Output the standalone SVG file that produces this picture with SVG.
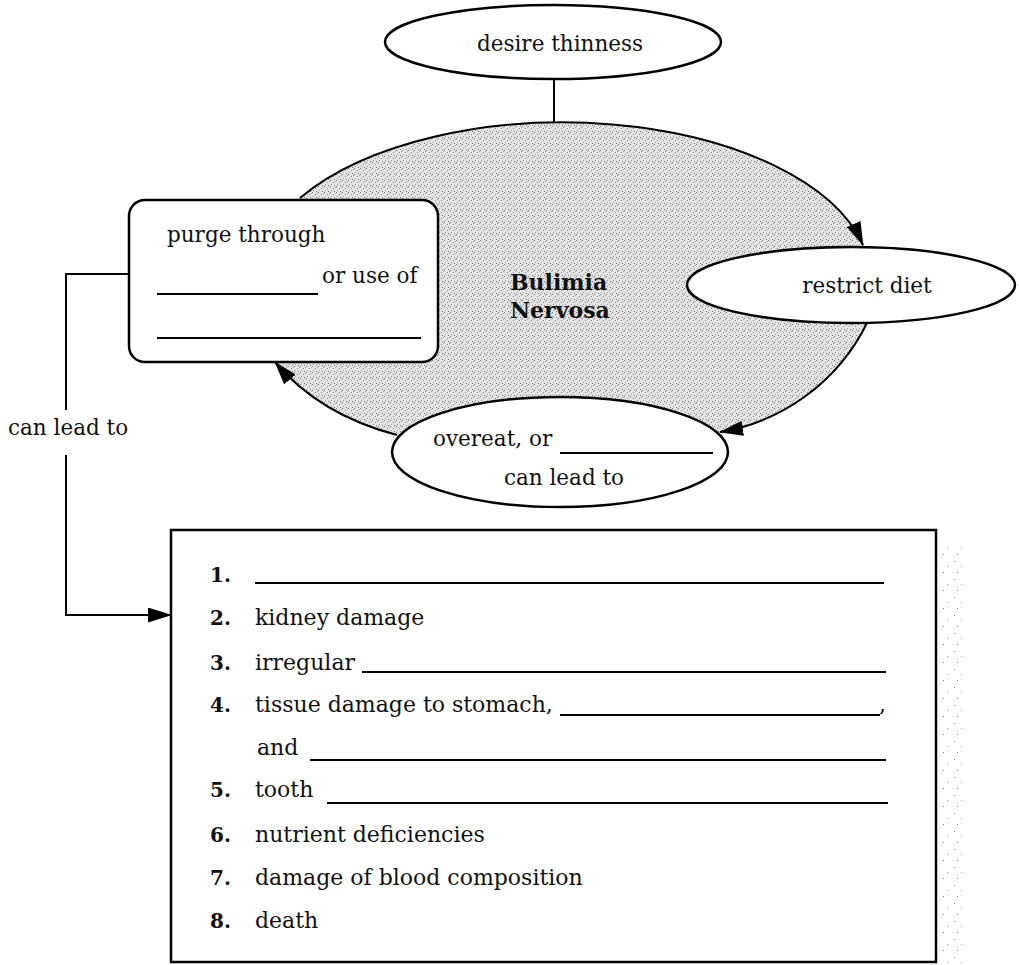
<svg xmlns="http://www.w3.org/2000/svg" width="1019" height="965" viewBox="0 0 1019 965">
<style>
.t{font-family:"DejaVu Serif","Liberation Serif",serif;font-size:21.5px;fill:#111}
.l{font-family:"DejaVu Serif","Liberation Serif",serif;font-size:22px;fill:#111}
.b{font-family:"DejaVu Serif","Liberation Serif",serif;font-weight:bold;font-size:22px;fill:#111}
.n{font-family:"DejaVu Serif","Liberation Serif",serif;font-weight:bold;font-size:20px;fill:#111}
.node{fill:#fff;stroke:#000;stroke-width:2.5}
.ln{fill:none;stroke:#000;stroke-width:2}
.blank{stroke:#000;stroke-width:2}
</style>
<defs>
<pattern id="stip" width="6" height="6" patternUnits="userSpaceOnUse">
<rect width="6" height="6" fill="#e4e4e4"/>
<rect x="0" y="0" width="1" height="1" fill="#777"/>
<rect x="3" y="2" width="1" height="1" fill="#888"/>
<rect x="1" y="4" width="1" height="1" fill="#999"/>
<rect x="4" y="5" width="1" height="1" fill="#777"/>
<rect x="5" y="1" width="1" height="1" fill="#aaa"/>
</pattern>
<pattern id="sparse" width="14" height="18" patternUnits="userSpaceOnUse">
<rect width="14" height="18" fill="#fff"/>
<rect x="2" y="3" width="1" height="1" fill="#999"/>
<rect x="9" y="8" width="1" height="1" fill="#aaa"/>
<rect x="5" y="14" width="1" height="1" fill="#888"/>
</pattern>
<marker id="ah" markerUnits="userSpaceOnUse" markerWidth="24" markerHeight="15" viewBox="0 0 24 15" refX="23" refY="7.5" orient="auto">
<path d="M0,0 L24,7.5 L0,15 z" fill="#000"/>
</marker>
</defs>

<g id="background">
<path id="bulimia-area" d="M300,198 A308,158 0 0 1 863,245 L867,323 A200,200 0 0 1 720,432 L397,435 Q320,415 275,362 L300,198 Z" fill="url(#stip)"/>
<rect x="942" y="547" width="22" height="418" fill="url(#sparse)"/>
</g>

<g id="connectors">
<line class="ln" x1="554" y1="80" x2="554" y2="122"/>
<path class="ln" d="M300,198 A308,158 0 0 1 863,245" marker-end="url(#ah)"/>
<path class="ln" d="M867,323 A200,200 0 0 1 720,432" marker-end="url(#ah)"/>
<path class="ln" d="M397,435 Q320,415 275,362" marker-end="url(#ah)"/>
<path class="ln" d="M129,274 L66,274 L66,410"/>
<path class="ln" d="M66,455 L66,615 L171,615" marker-end="url(#ah)"/>
<text class="t" x="8" y="435">can lead to</text>
</g>

<g id="desire-thinness">
<ellipse class="node" cx="553" cy="42" rx="168" ry="37"/>
<text class="t" x="560" y="51" text-anchor="middle">desire thinness</text>
</g>

<g id="bulimia-nervosa">
<text class="b" x="510" y="290">Bulimia</text>
<text class="b" x="510" y="318">Nervosa</text>
</g>

<g id="restrict-diet">
<ellipse class="node" cx="851" cy="285" rx="164" ry="38"/>
<text class="t" x="867" y="293" text-anchor="middle">restrict diet</text>
</g>

<g id="overeat">
<ellipse class="node" cx="560" cy="452" rx="168" ry="55"/>
<text class="t" x="433" y="446">overeat, or</text>
<line class="blank" x1="560" y1="453" x2="713" y2="453"/>
<text class="t" x="564" y="485" text-anchor="middle">can lead to</text>
</g>

<g id="purge">
<rect class="node" x="129" y="200" width="309" height="162" rx="16"/>
<text class="t" x="167" y="242">purge through</text>
<line class="blank" x1="157" y1="294" x2="318" y2="294"/>
<text class="t" x="322" y="283">or use of</text>
<line class="blank" x1="157" y1="338" x2="421" y2="338"/>
</g>

<g id="consequences">
<rect x="171" y="530" width="765" height="432" fill="#fff" stroke="#000" stroke-width="2.5"/>
<text class="n" x="210" y="582">1.</text>
<line class="blank" x1="255" y1="583" x2="884" y2="583"/>
<text class="n" x="210" y="625">2.</text>
<text class="l" x="255" y="625">kidney damage</text>
<text class="n" x="210" y="670">3.</text>
<text class="l" x="255" y="670">irregular</text>
<line class="blank" x1="362" y1="672" x2="886" y2="672"/>
<text class="n" x="210" y="712">4.</text>
<text class="l" x="255" y="712">tissue damage to stomach,</text>
<line class="blank" x1="560" y1="715" x2="880" y2="715"/>
<text class="l" x="879" y="712">,</text>
<text class="l" x="257" y="755">and</text>
<line class="blank" x1="310" y1="760" x2="886" y2="760"/>
<text class="n" x="210" y="797">5.</text>
<text class="l" x="255" y="797">tooth</text>
<line class="blank" x1="327" y1="803" x2="888" y2="803"/>
<text class="n" x="210" y="842">6.</text>
<text class="l" x="255" y="842">nutrient deficiencies</text>
<text class="n" x="210" y="885">7.</text>
<text class="l" x="255" y="885">damage of blood composition</text>
<text class="n" x="210" y="928">8.</text>
<text class="l" x="255" y="928">death</text>
</g>
</svg>
